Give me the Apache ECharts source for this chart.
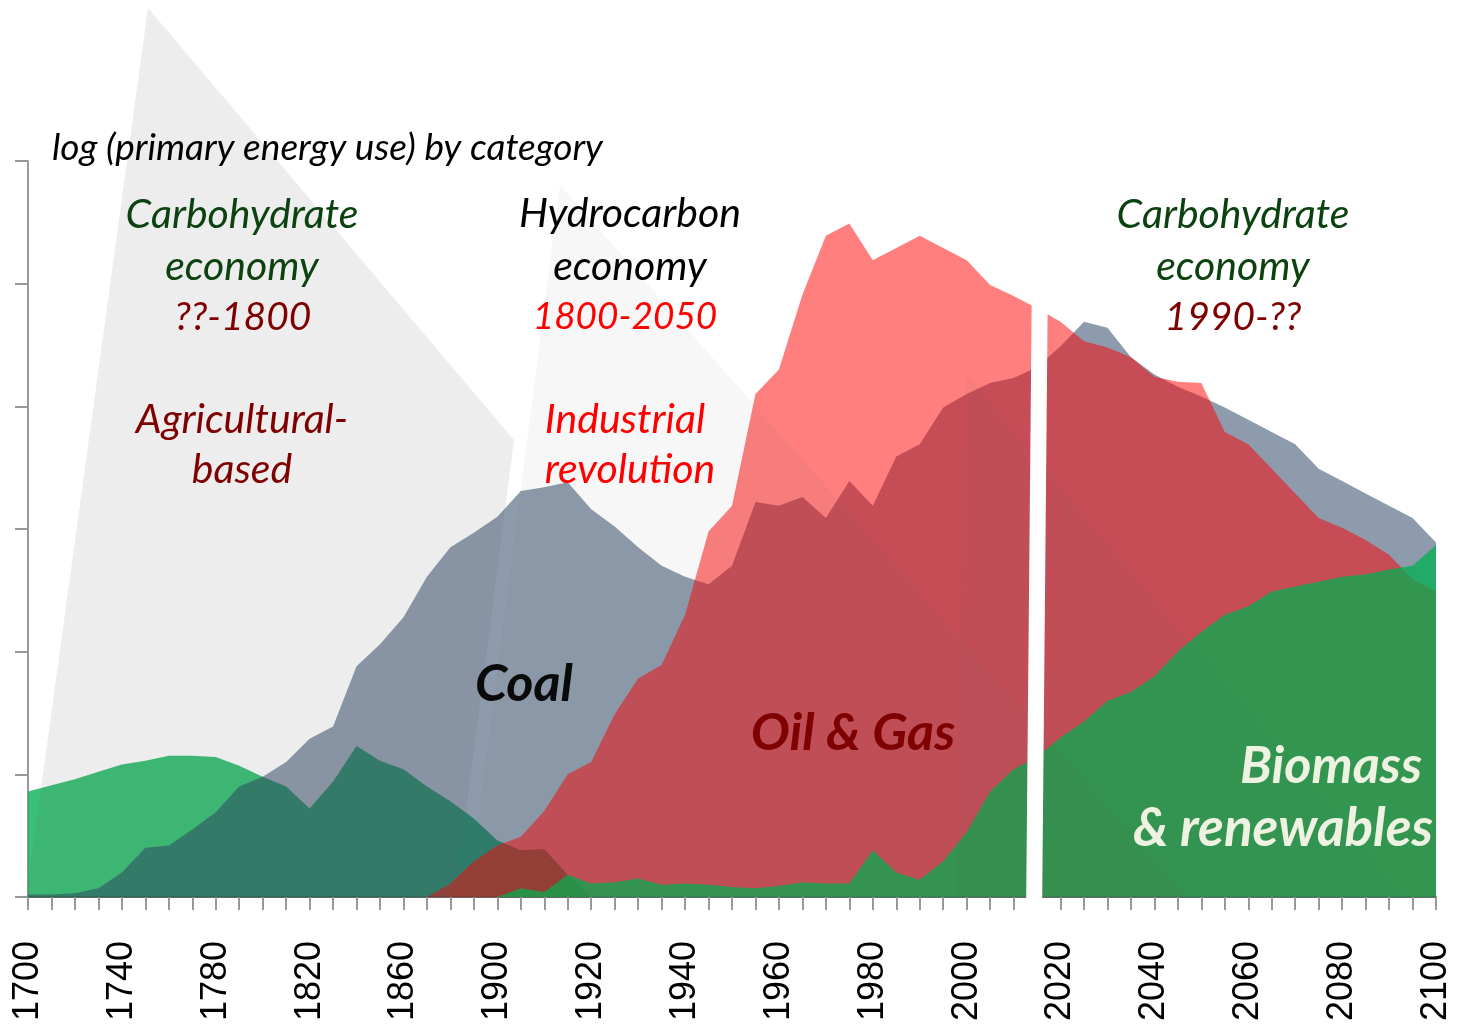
<!DOCTYPE html>
<html>
<head>
<meta charset="utf-8">
<script src="https://cdn.jsdelivr.net/npm/echarts@6/dist/echarts.min.js"></script>
<style>
html,body{margin:0;padding:0;background:#fff;}
#chart{width:1459px;height:1024px;}
</style>
</head>
<body>
<div id="chart"></div>
<script>
// categories: 10-year steps up to 1900, then 5-year steps
var years = ['1700','1710','1720','1730','1740','1750','1760','1770','1780','1790','1800',
	'1810','1820','1830','1840','1850','1860','1870','1880','1890','1900',
	'1905','1910','1915','1920','1925','1930','1935','1940','1945','1950',
	'1955','1960','1965','1970','1975','1980','1985','1990','1995','2000',
	'2005','2010','2015','2020','2025','2030','2035','2040','2045','2050',
	'2055','2060','2065','2070','2075','2080','2085','2090','2095','2100'];

// log(primary energy use)
var biomassOld = [0.86,0.91,0.96,1.02,1.08,1.11,1.15,1.15,1.14,1.07,0.98,
	0.90,0.72,0.94,1.23,1.11,1.04,0.90,0.78,0.64,0.46,
	0.38,0.39,0.18,0,null,null,null,null,null,null,
	null,null,null,null,null,null,null,null,null,null,
	null,null,null,null,null,null,null,null,null,null,
	null,null,null,null,null,null,null,null,null,null];

var coal = [0.02,0.02,0.03,0.07,0.20,0.40,0.42,0.55,0.69,0.90,0.98,
	1.10,1.29,1.39,1.88,2.06,2.28,2.61,2.85,2.97,3.10,
	3.31,3.34,3.38,3.16,3.02,2.85,2.70,2.61,2.55,2.70,
	3.22,3.19,3.26,3.09,3.39,3.19,3.59,3.69,3.99,4.10,
	4.19,4.23,4.32,4.49,4.69,4.64,4.40,4.26,4.16,4.08,
	3.99,3.89,3.79,3.69,3.49,3.39,3.29,3.19,3.09,2.89];

var oilGas = [null,null,null,null,null,null,null,null,null,null,null,
	null,null,null,null,null,null,0,0.11,0.29,0.42,
	0.49,0.70,1.00,1.10,1.49,1.78,1.89,2.30,2.98,3.19,
	4.10,4.30,4.91,5.39,5.49,5.19,5.29,5.39,5.29,5.19,
	4.99,4.90,4.80,4.69,4.53,4.48,4.40,4.24,4.20,4.19,
	3.79,3.69,3.49,3.29,3.09,3.01,2.91,2.79,2.59,2.49];

var renewables = [null,null,null,null,null,null,null,null,null,null,null,
	null,null,null,null,null,null,null,null,null,0,
	0.07,0.04,0.18,0.11,0.12,0.15,0.10,0.11,0.10,0.08,
	0.07,0.09,0.12,0.11,0.11,0.38,0.20,0.14,0.29,0.53,
	0.86,1.04,1.14,1.30,1.43,1.60,1.67,1.80,2.00,2.16,
	2.30,2.37,2.49,2.53,2.57,2.61,2.63,2.67,2.70,2.87];

var chart = echarts.init(document.getElementById('chart'));

function area(name, data, color){
	return {
		name: name,
		type: 'line',
		data: data,
		showSymbol: false,
		silent: true,
		lineStyle: {width: 0},
		areaStyle: {color: color, opacity: 1}
	};
}

function txt(text, x, y, size, color, bold, align){
	return {
		type: 'text',
		z: 20,
		silent: true,
		style: {
			text: text,
			x: x,
			y: y,
			fill: color,
			font: 'italic ' + (bold ? 'bold ' : '') + size + 'px Lato',
			textAlign: align || 'center',
			textVerticalAlign: 'middle'
		}
	};
}

var darkGreen = '#0b4210';
var darkRed = '#7f0000';

var graphics = [
	// translucent wedges lying over the areas
	{type: 'polygon', z: 10, silent: true, shape: {points: [[148,8],[514,440],[455,898],[26,898]]}, style: {fill: 'rgba(100,100,100,0.116)'}},
	{type: 'polygon', z: 10, silent: true, shape: {points: [[560,185],[1190,898],[468,898]]}, style: {fill: 'rgba(100,100,100,0.05)'}},
	{type: 'polygon', z: 10, silent: true, shape: {points: [[966,373],[1405,898],[955,898]]}, style: {fill: 'rgba(100,100,100,0.045)'}},
	// white break between history and projection
	{type: 'polygon', z: 15, silent: true, shape: {points: [[1033,160],[1049,160],[1042,918],[1026,918]]}, style: {fill: '#fff'}},

	txt('log (primary energy use) by category', 52, 148, 37, '#000', false, 'left'),

	txt('Carbohydrate', 242, 215, 41, darkGreen),
	txt('economy', 242, 267, 41, darkGreen),
	txt('??-1800', 243, 317, 39, darkRed),
	txt('Agricultural-', 242, 420, 41, darkRed),
	txt('based', 242, 470, 41, darkRed),

	txt('Hydrocarbon', 630, 214, 41, '#000'),
	txt('economy', 630, 267, 41, '#000'),
	txt('1800-2050', 625, 317, 37, '#ff0000'),
	txt('Industrial', 625, 420, 41, '#ff0000'),
	txt('revolution', 630, 470, 41, '#ff0000'),

	txt('Carbohydrate', 1233, 215, 41, darkGreen),
	txt('economy', 1233, 267, 41, darkGreen),
	txt('1990-??', 1233, 317, 39, darkRed),

	txt('Coal', 524, 684, 52, '#0a0a0a', true),
	txt('Oil & Gas', 853, 733, 52, darkRed, true),
	txt('Biomass', 1422, 766, 52, '#eef2e0', true, 'right'),
	txt('& renewables', 1433, 829, 53, '#eef2e0', true, 'right')
];

var option = {
	backgroundColor: '#fff',
	animation: false,
	grid: {left: 28, right: 23, top: 161, bottom: 126, containLabel: false},
	xAxis: {
		type: 'category',
		data: years,
		boundaryGap: false,
		axisLine: {lineStyle: {color: '#666', width: 2}},
		axisTick: {interval: 0, length: 13, lineStyle: {color: '#999', width: 2}},
		axisLabel: {
			rotate: 90,
			margin: 44,
			fontSize: 36,
			fontFamily: 'Liberation Sans',
			color: '#000',
			interval: function(index){
				return index <= 20 ? index % 4 === 0 : (index - 20) % 4 === 0;
			}
		},
		splitLine: {show: false}
	},
	yAxis: {
		type: 'value',
		min: 0,
		max: 6,
		interval: 1,
		axisLine: {show: true, lineStyle: {color: '#999', width: 2}},
		axisTick: {show: true, length: 13, lineStyle: {color: '#999', width: 2}},
		axisLabel: {show: false},
		splitLine: {show: false}
	},
	series: [
		area('Biomass (traditional)', biomassOld, 'rgba(0,176,80,0.78)'),
		area('Coal', coal, 'rgba(36,63,95,0.52)'),
		area('Oil & Gas', oilGas, 'rgba(255,0,0,0.5)'),
		area('Biomass & renewables', renewables, 'rgba(0,175,79,0.75)')
	],
	graphic: graphics
};

chart.setOption(option);
</script>
</body>
</html>
